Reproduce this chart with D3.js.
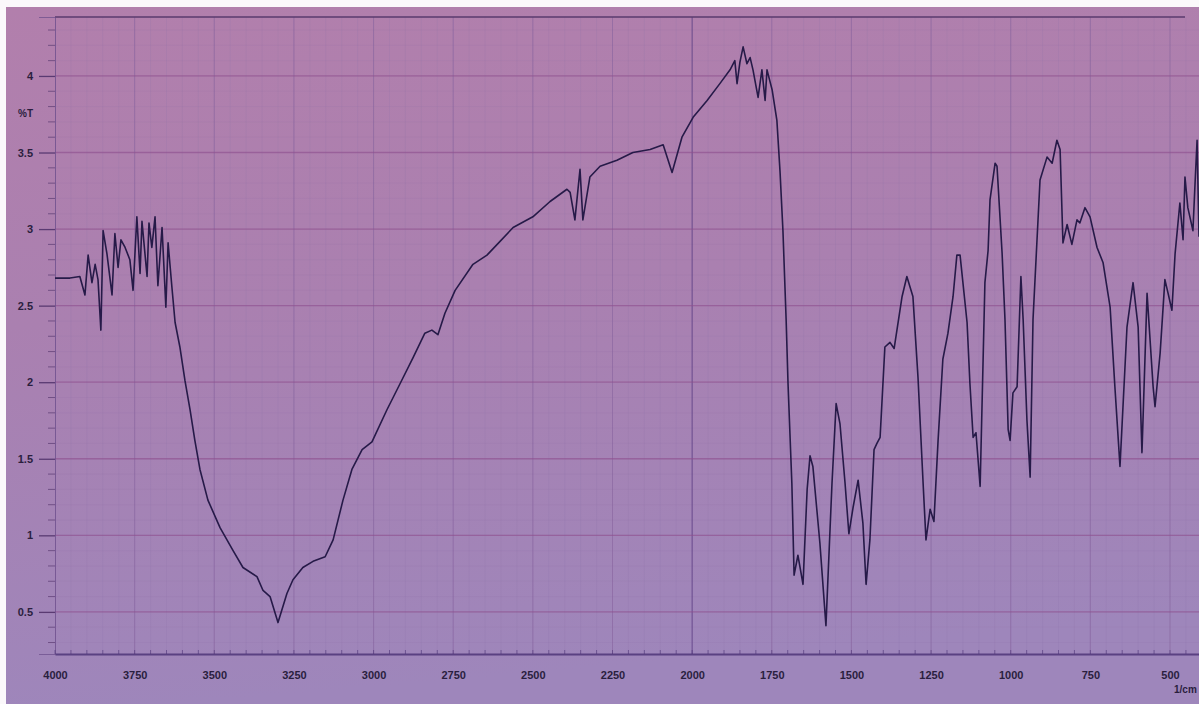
<!DOCTYPE html>
<html>
<head>
<meta charset="utf-8">
<script src="https://cdn.jsdelivr.net/npm/d3@7"></script>
<style>
  html, body { margin: 0; padding: 0; background: #ffffff; }
  svg { display: block; }
</style>
</head>
<body>
<svg id="chart" width="1199" height="704"></svg>
<script>
// ---- data (wavenumber in 1/cm, %T) ----
const wavenumbers = [
  4000, 3953, 3922, 3906, 3896, 3884, 3874, 3865, 3856, 3849, 3837, 3821, 3812, 3802, 3793,
  3780, 3765, 3755, 3743, 3733, 3727, 3711, 3705, 3696, 3686, 3677, 3664, 3652, 3645, 3633,
  3623, 3608, 3592, 3576, 3561, 3545, 3520, 3482, 3441, 3410, 3366, 3347, 3325, 3300, 3272,
  3253, 3222, 3190, 3152, 3127, 3096, 3068, 3036, 3005, 2958, 2917, 2876, 2839, 2817, 2798,
  2776, 2744, 2688, 2644, 2603, 2562, 2500, 2446, 2393, 2383, 2368, 2352, 2343, 2321, 2289,
  2236, 2186, 2132, 2091, 2063, 2032, 1997, 1953, 1913, 1881, 1866, 1859, 1850, 1840, 1828,
  1818, 1809, 1793, 1781, 1771, 1765, 1749, 1734, 1724, 1715, 1705, 1699, 1687, 1680, 1668,
  1652, 1639, 1630, 1621, 1599, 1580, 1561, 1548, 1536, 1520, 1508, 1495, 1479, 1464, 1454,
  1442, 1429, 1420, 1410, 1395, 1379, 1366, 1341, 1326, 1307, 1291, 1275, 1266, 1253, 1241,
  1228, 1213, 1197, 1181, 1169, 1159, 1137, 1128, 1118, 1109, 1096, 1081, 1071, 1065, 1049,
  1043, 1027, 1018, 1008, 1002, 993, 980, 968, 961, 949, 939, 930, 908, 886, 870,
  855, 845, 836, 823, 808, 792, 783, 767, 751, 729, 710, 688, 673, 657, 635,
  616, 600, 588, 572, 553, 547, 531, 516, 506, 494, 484, 469, 459, 453, 444,
  428, 422, 415, 409
];
const transmittance = [
  2.68, 2.68, 2.69, 2.57, 2.83, 2.65, 2.77, 2.67, 2.34, 2.99, 2.84, 2.57, 2.97, 2.75, 2.93,
  2.88, 2.80, 2.60, 3.08, 2.71, 3.05, 2.69, 3.04, 2.88, 3.08, 2.63, 3.01, 2.49, 2.91, 2.62,
  2.39, 2.23, 2.01, 1.82, 1.62, 1.43, 1.23, 1.05, 0.90, 0.79, 0.73, 0.64, 0.60, 0.43, 0.62,
  0.71, 0.79, 0.83, 0.86, 0.97, 1.23, 1.43, 1.56, 1.61, 1.82, 1.99, 2.16, 2.32, 2.34, 2.31,
  2.45, 2.60, 2.77, 2.83, 2.92, 3.01, 3.08, 3.18, 3.26, 3.24, 3.06, 3.39, 3.06, 3.34, 3.41,
  3.45, 3.50, 3.52, 3.55, 3.37, 3.60, 3.73, 3.84, 3.95, 4.04, 4.10, 3.95, 4.09, 4.19, 4.08,
  4.12, 4.04, 3.86, 4.04, 3.84, 4.04, 3.91, 3.71, 3.37, 2.99, 2.41, 1.99, 1.34, 0.74, 0.87,
  0.68, 1.30, 1.52, 1.45, 0.95, 0.41, 1.34, 1.86, 1.73, 1.34, 1.01, 1.18, 1.36, 1.08, 0.68,
  0.97, 1.56, 1.60, 1.64, 2.23, 2.26, 2.22, 2.56, 2.69, 2.56, 2.03, 1.34, 0.97, 1.17, 1.09,
  1.62, 2.15, 2.32, 2.56, 2.83, 2.83, 2.39, 1.99, 1.64, 1.67, 1.32, 2.65, 2.86, 3.19, 3.43,
  3.41, 2.84, 2.41, 1.69, 1.62, 1.93, 1.97, 2.69, 2.41, 1.75, 1.38, 2.41, 3.32, 3.47, 3.43,
  3.58, 3.52, 2.91, 3.03, 2.90, 3.06, 3.04, 3.14, 3.08, 2.88, 2.78, 2.49, 1.97, 1.45, 2.36,
  2.65, 2.36, 1.54, 2.58, 1.97, 1.84, 2.19, 2.67, 2.58, 2.47, 2.84, 3.17, 2.93, 3.34, 3.14,
  2.99, 3.27, 3.58, 2.95
];
const xTickValues = [4000, 3750, 3500, 3250, 3000, 2750, 2500, 2250, 2000, 1750, 1500, 1250, 1000, 750, 500];
const yTickValues = [0.5, 1, 1.5, 2, 2.5, 3, 3.5, 4];
const yTickLabels = ["0.5", "1", "1.5", "2", "2.5", "3", "3.5", "4"];
const yAxisTitle = "%T";
const xAxisUnit = "1/cm";

// ---- layout ----
const W = 1199, H = 704;
const mLeft = 55, mTop = 17, mBottom = 654;
const svg = d3.select("#chart");

const x = d3.scaleLinear().domain([4000, 400]).range([mLeft, mLeft + 3600 * (1115 / 3500)]);
const y = d3.scaleLinear().domain([0.225, 4.385]).range([mBottom, mTop]);

// background (photographed paper)
const defs = svg.append("defs");
const grad = defs.append("linearGradient").attr("id", "paper")
  .attr("x1", 0).attr("y1", 0).attr("x2", 0.15).attr("y2", 1);
grad.append("stop").attr("offset", "0%").attr("stop-color", "#b27fac");
grad.append("stop").attr("offset", "45%").attr("stop-color", "#aa80b0");
grad.append("stop").attr("offset", "100%").attr("stop-color", "#9e86bb");
svg.append("rect").attr("width", W).attr("height", H).attr("fill", "#fbf8fb");
svg.append("rect").attr("x", 6).attr("y", 7).attr("width", W - 6).attr("height", H - 7).attr("fill", "url(#paper)");

const clip = defs.append("clipPath").attr("id", "plotclip");
clip.append("rect").attr("x", mLeft).attr("y", mTop).attr("width", W - mLeft).attr("height", mBottom - mTop);

// minor grid
const g = svg.append("g").attr("clip-path", "url(#plotclip)");
g.append("g").selectAll("line").data(d3.range(4000, 400, -50))
  .join("line")
  .attr("x1", d => x(d)).attr("x2", d => x(d))
  .attr("y1", mTop).attr("y2", mBottom)
  .attr("stroke", "#8a6fa8").attr("stroke-opacity", 0.16).attr("stroke-width", 1);
g.append("g").selectAll("line").data(d3.range(0.3, 4.4, 0.1))
  .join("line")
  .attr("x1", mLeft).attr("x2", W)
  .attr("y1", d => y(d)).attr("y2", d => y(d))
  .attr("stroke", "#8a6fa8").attr("stroke-opacity", 0.12).attr("stroke-width", 1);

// major grid
g.append("g").selectAll("line").data(xTickValues)
  .join("line")
  .attr("x1", d => x(d)).attr("x2", d => x(d))
  .attr("y1", mTop).attr("y2", mBottom)
  .attr("stroke", d => d === 2000 ? "#5e3f86" : "#85609c")
  .attr("stroke-opacity", d => d === 2000 ? 0.8 : 0.5)
  .attr("stroke-width", 1);
g.append("g").selectAll("line").data(yTickValues)
  .join("line")
  .attr("x1", mLeft).attr("x2", W)
  .attr("y1", d => y(d)).attr("y2", d => y(d))
  .attr("stroke", "#8f4f8e").attr("stroke-opacity", 0.6).attr("stroke-width", 1.3);

// frame: top line
svg.append("line").attr("x1", mLeft).attr("x2", 1185).attr("y1", mTop).attr("y2", mTop)
  .attr("stroke", "#5a3a6e").attr("stroke-width", 1.6);

// y axis
const yAxis = d3.axisLeft(y).tickValues(yTickValues)
  .tickFormat((d, i) => yTickLabels[i]).tickSize(16).tickPadding(6);
const yg = svg.append("g").attr("transform", `translate(${mLeft},0)`).call(yAxis);
yg.select(".domain").attr("stroke", "#6a4c8a").attr("stroke-width", 1).attr("stroke-opacity", 0.7);
yg.selectAll(".tick line").attr("stroke", "#5a3a72").attr("stroke-width", 1.3);
yg.selectAll(".tick text").attr("fill", "#2a1e3e").attr("font-family", "Liberation Sans, Arial, sans-serif")
  .attr("font-size", 11).attr("font-weight", "bold");
// y minor ticks
svg.append("g").selectAll("line").data(d3.range(0.3, 4.4, 0.1).filter(v => Math.abs(v * 2 - Math.round(v * 2)) > 0.01))
  .join("line")
  .attr("x1", mLeft - 7).attr("x2", mLeft)
  .attr("y1", d => y(d)).attr("y2", d => y(d))
  .attr("stroke", "#5a3a72").attr("stroke-opacity", 0.7).attr("stroke-width", 1);

svg.append("text").attr("x", 33).attr("y", y(3.73)).attr("text-anchor", "end")
  .attr("fill", "#2a1e3e").attr("font-family", "Liberation Sans, Arial, sans-serif")
  .attr("font-size", 10).attr("font-weight", "bold").text(yAxisTitle);

// x axis
const xAxis = d3.axisBottom(x).tickValues(xTickValues).tickFormat(d3.format("d"))
  .tickSize(0).tickPadding(17);
const xg = svg.append("g").attr("transform", `translate(0,${mBottom})`).call(xAxis);
xg.select(".domain").attr("stroke", "#4e3578").attr("stroke-width", 2.2).attr("stroke-opacity", 0.85);
xg.selectAll(".tick text").attr("fill", "#2a1e3e").attr("font-family", "Liberation Sans, Arial, sans-serif")
  .attr("font-size", 11).attr("font-weight", "bold");
// x minor ticks (above axis)
svg.append("g").selectAll("line").data(d3.range(4000, 400, -50))
  .join("line")
  .attr("x1", d => x(d)).attr("x2", d => x(d))
  .attr("y1", mBottom - 4).attr("y2", mBottom)
  .attr("stroke", "#4e3578").attr("stroke-opacity", 0.6).attr("stroke-width", 1);
svg.append("text").attr("x", 1174).attr("y", 693)
  .attr("fill", "#2a1e3e").attr("font-family", "Liberation Sans, Arial, sans-serif")
  .attr("font-size", 10).attr("font-weight", "bold").text(xAxisUnit);

// spectrum
const pts = wavenumbers.map((w, i) => [w, transmittance[i]]);
const line = d3.line().x(d => x(d[0])).y(d => y(d[1])).curve(d3.curveLinear);
svg.append("path").datum(pts)
  .attr("clip-path", "url(#plotclip)")
  .attr("d", line)
  .attr("fill", "none")
  .attr("stroke", "#261a48")
  .attr("stroke-width", 1.6)
  .attr("stroke-linejoin", "round");
</script>
</body>
</html>
